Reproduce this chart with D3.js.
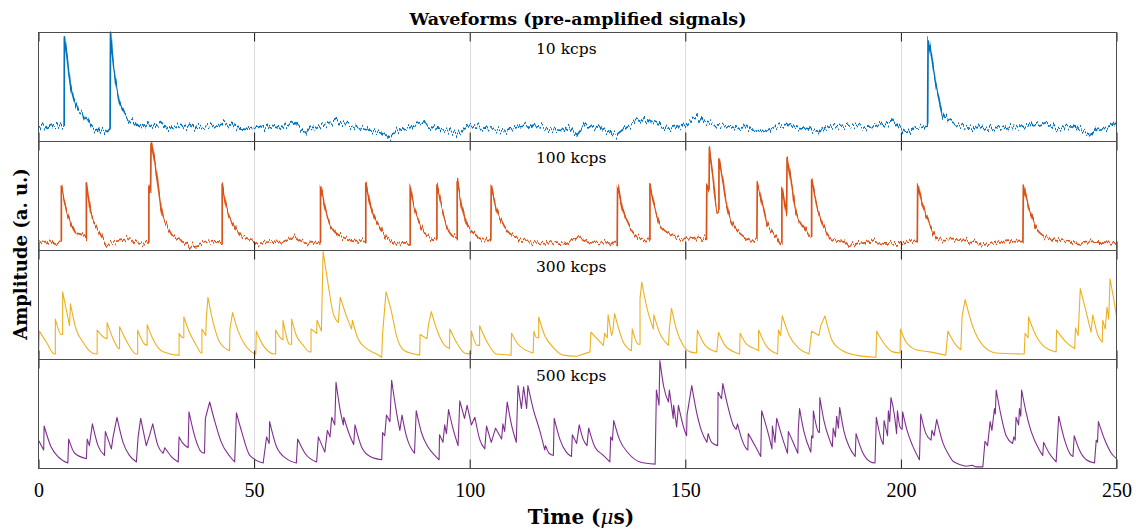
<!DOCTYPE html>
<html>
<head>
<meta charset="utf-8">
<script src="https://cdn.jsdelivr.net/npm/d3@7"></script>
<style>
  body { margin: 0; background: #fff; }
  svg { display: block; }
</style>
</head>
<body>
<svg id="chart" width="1136" height="531"></svg>
<script>
// Count-rate label of each stacked panel, top to bottom
const rateLabels = ["10 kcps", "100 kcps", "300 kcps", "500 kcps"];
const seriesColors = ["#0072BD", "#D95319", "#EDB120", "#7E2F8E"];
const xTickValues = [0, 50, 100, 150, 200, 250];
const gridValues = [50, 100, 150, 200];
// electronic noise on the low-rate traces (peak displacement, px)
const noiseScale = [8, 6, 0, 0];

// Pre-amplifier output, [time (µs), amplitude (% of panel range)]
const wave10 = [[0,13],[1,15],[2,12],[3,14],[4,13],[5,15],[5.95,14],[6.0,96],[6.6,78],[7.2,58],[7.9,43],[8.8,32],[9.6,27],[10.2,26],[10.6,22],[11.3,19],[12.1,14],[13,11],[14,9],[15,11],[16,9],[16.6,12],[16.7,100],[17.4,70],[18.3,44],[19.5,28],[20.4,21],[21.2,18],[22,20],[23,15],[24.5,12],[26,16],[27,14],[28,17],[29.5,13],[31,12],[32,15],[33.5,13],[35,15],[36.5,12],[38,13],[40,15],[41.5,14],[43,17],[44.5,15],[46,13],[48,12],[50,13],[51,15],[52.5,12],[54,14],[56,12],[57.5,16],[59.3,18],[60.5,13],[61.8,8],[63,12],[64.3,12],[66,15],[68,17],[69.2,20],[70.5,16],[72.5,15],[74,13],[75.8,11],[77.5,10],[79.2,8],[80.5,6],[81.6,4],[83,10],[85,12],[87,15],[89.1,17],[90.5,14],[92,12],[93.2,11],[95,10],[97.4,7],[98.5,11],[100,14],[102,13],[104,12],[106,11],[108.1,9],[110,12],[112.3,14],[114,13],[115.6,15],[117.5,12],[119.7,11],[121.5,10],[123.3,12],[124.9,6],[126.6,15],[130,12],[132,9],[134,6],[136.5,14],[140.7,21],[143.5,15],[146.7,12],[150,15],[152.6,24],[154.7,17],[158,15],[160,14],[162,12],[164,13],[166,11],[167.9,9],[170,12],[172,14],[174,15],[176,13],[178,12],[181.1,9],[183,13],[186,14],[189,14],[192,13],[195,15],[197.7,18],[199.5,14],[200.5,11],[201.8,8],[203,13],[205,14],[206.2,15],[206.3,95],[207.3,73],[208.5,46],[209.8,24],[211.8,18],[213.9,14],[216,12],[218,13],[220,11],[222,13],[224,12],[226,14],[228,13],[230,15],[232,14],[234,17],[236,11],[238,14],[240,13],[242,10],[243.9,6],[245.5,11],[247.5,12],[249.7,15],[250,14]];

const wave100 = [[0,8],[1.5,7],[3,9],[4.5,7],[5.3,8],[5.3,59],[6.4,38],[7.6,24],[8.7,16],[9.7,15],[10.7,13],[11.1,12],[11.1,64],[12.2,33],[13.8,19],[15.7,6],[18,8.5],[20,10],[21.1,11.5],[23.5,7],[25.4,6],[25.6,6],[25.6,58],[25.9,52],[26,52],[26.1,99],[27.3,73],[28.5,38],[29.6,25],[31.2,13],[34.3,7],[35.1,4],[38.2,7],[40,8],[42.6,8],[42.6,61],[43.6,39],[45.1,24],[46.7,15],[49,10],[50.5,6],[53.6,8],[56.7,7],[59.4,13],[61.4,8],[63.7,7],[65.4,8],[65.4,61],[66.8,33],[68.3,19],[70.7,12],[73.8,9],[75.9,8],[75.9,61],[77.2,39],[78.8,24],[80.7,12],[83.1,6],[84.5,7],[86.2,7],[86.2,59],[87.2,38],[88.8,21],[90.7,12],[92.3,10],[92.4,10],[92.4,61],[93.8,35],[95.4,16],[96.8,12],[97.1,12],[97.1,65],[98.1,41],[99.6,22],[101.2,15],[103.1,10],[104.9,10],[105,59],[106.2,38],[108.1,21],[110.8,12],[113.9,8],[117.8,6],[121.7,7],[125.5,12],[127.9,8],[131.7,7],[134.2,6],[134.3,60],[135.6,36],[137.2,21],[139.1,12],[141.4,10],[141.8,10],[141.8,61],[143,38],[144.6,21],[146.5,15],[149.5,10],[152.6,12],[154.9,11],[155,61],[155.5,55],[155.6,95],[156.3,70],[157.5,36],[157.8,36],[157.8,85],[158.8,61],[159.9,36],[161.5,21],[163.5,13],[165,9],[166.6,10],[166.7,62],[167.9,42],[169,24],[170.6,15],[172.1,5.5],[172.4,6],[172.4,58],[173.5,33],[173.6,85],[174.5,64],[175.7,35],[177.6,21],[179.1,13],[179.3,13],[179.3,65],[180.7,38],[182.2,21],[184.1,10],[186.5,9],[188,4],[190.3,7],[193.4,9],[196.5,6],[200,6],[201.9,9],[203.8,8],[203.9,61],[205,42],[206.6,24],[208.9,10],[211.2,10],[215.1,9],[219,5],[222.8,8],[226.7,9],[228.3,9],[228.4,60],[229.8,38],[231.3,21],[233.7,12],[236,9],[239.1,8],[242.2,7],[246.1,8],[250,7]];

const wave300 = [[0,2],[0.2,26],[1.8,16],[3.7,5],[3.9,5],[3.9,37],[5.3,23],[5.6,23],[5.6,62],[7.2,31],[7.4,51],[8.7,28],[10.3,16],[11.8,8],[13.4,5],[13.6,5],[13.6,27],[15.3,20],[15.9,19],[15.9,34],[17.3,19],[18.7,10],[18.8,10],[18.8,30],[20.4,17],[22.7,5],[23,5],[23,27],[24.6,14],[25.2,13],[25.2,32],[26.5,19],[28.9,7],[32.4,4],[32.6,4],[32.6,24],[33.5,20],[33.7,20],[33.7,39],[35.1,24],[36.6,13],[37.8,6],[37.9,6],[37.9,28],[38.8,22],[38.9,37],[39.3,57],[40.5,34],[42,16],[44.3,8],[44.4,28],[45,43],[46.3,26],[47.8,14],[49.8,6],[50.4,5],[50.5,26],[52.1,13],[54.8,5],[55,5],[55,27],[56.3,19],[56.7,18],[56.7,36],[58.3,14],[58.7,14],[58.7,37],[59.8,22],[61.4,13],[62.9,7],[63.2,7],[63.2,28],[64.5,24],[64.6,36],[65.6,26],[65.8,62],[66,99],[67.2,68],[68.3,43],[69.5,34],[69.7,43],[70,57],[71.4,40],[72.6,28],[72.8,36],[74.1,19],[76.1,10],[78.4,5],[79.6,2],[79.8,24],[80.6,62],[81.9,43],[83,22],[84.9,8],[88.4,4],[88.5,23],[90.1,19],[90.4,31],[91.1,44],[92.6,25],[94.2,13],[95.3,10],[95.4,28],[96.9,16],[98.8,6],[100.3,5],[100.4,26],[101.7,13],[102.3,13],[102.3,31],[103.9,17],[106.2,5],[109.6,4],[109.7,24],[111.2,14],[114.7,6],[114.9,26],[115.5,20],[116,20],[116,39],[117.4,22],[119.4,11],[121.7,4],[124.8,3],[127.9,7],[128.1,25],[131,13],[131.3,24],[131.9,20],[132.1,41],[132.9,22],[133.2,26],[133.6,42],[135.6,16],[137.5,8],[137.7,28],[139.1,14],[139.5,14],[139.5,56],[139.9,71],[141,49],[142.6,28],[142.7,41],[144.1,24],[146.1,13],[146.3,28],[146.8,47],[148,27],[149.5,13],[151.1,7],[152.6,6],[152.8,27],[154.6,13],[157.3,7],[157.7,25],[159.2,13],[161.9,6],[162.6,5],[162.7,24],[164.2,14],[166.6,9],[167,8],[167,27],[168.7,13],[171.4,5],[171.6,27],[172.1,22],[172.5,40],[174.1,22],[176.4,10],[178.7,5],[179.3,26],[181,22],[181.4,31],[182.4,40],[184.1,17],[186.5,8],[189.6,4],[194.2,2],[194.4,26],[195.7,17],[198.1,7],[199.8,6],[199.9,28],[201.2,16],[203.5,9],[206.6,7],[210.4,4],[210.9,26],[212.8,13],[213.9,9],[214.2,40],[214.9,55],[216.6,31],[219,13],[222.1,6],[228.6,5],[228.8,24],[229.5,20],[229.6,39],[231.3,22],[232.9,13],[236,7],[236.1,27],[238.3,16],[240.3,10],[240.5,29],[241.1,22],[241.6,65],[243,43],[244.1,25],[244.5,41],[245.7,22],[246.7,16],[246.8,36],[247.4,28],[247.8,48],[248.2,37],[248.5,74],[249.5,52],[250,40]];

const wave500 = [[0,26],[1.2,17],[1.3,39],[2.9,20],[4.5,11],[6.8,5],[7,27],[8.4,14],[11.1,9],[11.3,27],[11.8,21],[12.5,41],[13.8,21],[15.3,12],[15.5,34],[16.9,18],[17.3,29],[18.2,47],[19.6,24],[21.1,12],[22.7,6],[23.1,29],[23.7,46],[25,21],[25.8,31],[26.5,41],[27.7,21],[28.9,14],[29.3,19],[30.8,11],[32.4,6],[32.6,29],[33.5,23],[34.7,19],[34.9,52],[36.2,30],[37.8,15],[38.5,14],[38.7,46],[39.7,61],[40.9,43],[42.4,24],[44.4,11],[45.5,6],[45.9,51],[47.1,34],[49,12],[52.1,5],[52.9,29],[53.5,23],[53.6,43],[55.2,20],[57.5,9],[59.8,5],[60.1,27],[61.8,14],[64.5,6],[64.9,29],[66.4,15],[67,35],[67.6,29],[68,47],[68.7,40],[69,79],[69.9,55],[70.7,40],[70.8,47],[72.2,30],[73.1,22],[73.4,40],[74.9,20],[76.9,11],[79.6,8],[79.8,33],[80.3,30],[80.7,49],[81.5,43],[81.9,81],[83,52],[83.8,35],[84.3,49],[85.3,30],[86.1,21],[87.2,14],[87.6,53],[88.8,33],[90.3,20],[91.9,12],[92.9,8],[93,31],[93.8,24],[94.2,40],[94.6,32],[95.1,54],[96.1,37],[97.3,21],[97.7,62],[98.8,46],[99.4,58],[100.4,40],[101.2,47],[102.3,27],[103.5,18],[103.9,39],[105,24],[106,37],[107.4,27],[107.7,41],[108.1,34],[108.7,61],[109.7,40],[110.8,24],[111.2,76],[112,55],[112.5,75],[113.2,55],[113.5,76],[114.7,55],[116.3,34],[117.4,17],[117.6,21],[118.4,14],[119.4,12],[119.6,46],[120.9,27],[122.4,15],[123.6,11],[123.8,31],[124.8,23],[125.4,40],[126.3,27],[127.2,21],[127.6,37],[129,20],[131,12],[132.5,6],[132.7,29],[133.1,26],[133.4,44],[134.8,26],[136.8,14],[139.5,6],[143,4],[143.3,72],[143.9,58],[144.1,99],[145,75],[146.1,61],[146.3,72],[147.2,46],[147.3,58],[148,38],[148.4,58],[149.9,34],[150.3,30],[150.4,49],[151.5,76],[152.6,52],[153.8,34],[155,24],[155.3,32],[156.1,24],[157.5,21],[157.6,70],[158.4,64],[158.7,78],[160,55],[161.1,40],[161.8,36],[162.1,41],[163.1,27],[164.2,18],[164.5,17],[164.6,32],[166.3,20],[167.5,11],[167.7,53],[169.1,34],[170.1,18],[170.2,39],[170.8,24],[171.2,46],[172.6,27],[173.7,14],[173.9,34],[175,24],[176.1,14],[176.2,35],[176.5,55],[177.5,34],[179.1,15],[179.3,30],[179.6,28],[179.7,53],[180.8,34],[181.1,33],[181.2,65],[182.2,43],[183.4,27],[184.1,20],[184.3,37],[184.8,29],[185.1,48],[185.5,37],[185.8,56],[186.8,34],[188,20],[189.4,11],[189.6,32],[191.1,15],[193,6],[194,5],[194.3,47],[195.4,27],[195.9,22],[196.1,44],[196.9,30],[197.1,53],[197.4,43],[197.7,65],[198.5,49],[199,32],[199.2,53],[199.8,38],[200.3,36],[200.4,52],[201.5,34],[202.7,21],[204.3,8],[204.6,50],[205.8,32],[207,26],[207.2,35],[207.7,30],[208.3,45],[209.7,24],[211.2,12],[212,7],[212.8,5],[215.1,2],[216.6,3],[217.5,1.5],[219,1.5],[219.5,25],[220.1,21],[220.7,43],[221.1,35],[221.7,55],[221.9,50],[222.1,72],[223.2,49],[224.4,30],[225.9,23],[226.2,29],[226.5,26],[226.7,47],[227.3,40],[227.5,55],[227.8,48],[228,72],[229,52],[230.2,34],[232.1,17],[232.9,12],[233.1,24],[234.4,14],[236,6],[236.6,48],[237.9,27],[239.5,12],[239.9,11],[240.2,30],[241.4,17],[243,8],[244.9,5],[245.3,26],[245.6,24],[245.8,43],[247.2,27],[248.8,14],[250,9]];

const waves = [wave10, wave100, wave300, wave500];

const svg = d3.select("#chart");
const margin = { left: 38.5, right: 1116.5, top: 32.5 };
const panelH = 109;
const serif = "'DejaVu Serif', 'Liberation Serif', serif";

svg.append("rect").attr("width", 1136).attr("height", 531).attr("fill", "#fff");
const defs = svg.append("defs");

const x = d3.scaleLinear().domain([0, 250]).range([margin.left, margin.right]);

// Falling stretches (pulse tails) are smoothed; rising edges stay straight.
function tracePath(wave, y) {
  const runs = [];
  let cur = [wave[0]];
  for (let k = 1; k < wave.length; k++) {
    if (wave[k][1] > wave[k - 1][1]) { runs.push(cur); cur = [wave[k]]; }
    else cur.push(wave[k]);
  }
  runs.push(cur);
  const gen = d3.line().x(d => x(d[0])).y(d => y(d[1])).curve(d3.curveMonotoneX);
  return runs.map((r, idx) => {
    let s = r.length === 1 ? `M${x(r[0][0])},${y(r[0][1])}` : gen(r);
    return idx ? "L" + s.slice(1) : s;
  }).join("");
}

waves.forEach((wave, i) => {
  const top = margin.top + i * panelH;
  const bottom = top + panelH;
  const y = d3.scaleLinear().domain([0, 100]).range([bottom, top]);
  const g = svg.append("g").attr("class", "panel");

  // vertical grid
  g.selectAll("line.grid").data(gridValues).join("line")
    .attr("class", "grid")
    .attr("x1", d => Math.round(x(d)) + 0.5).attr("x2", d => Math.round(x(d)) + 0.5)
    .attr("y1", top).attr("y2", bottom)
    .attr("stroke", "#dcdcdc").attr("stroke-width", 1);

  const clipId = "clip" + i;
  defs.append("clipPath").attr("id", clipId)
    .append("rect").attr("x", margin.left).attr("y", top - 1)
    .attr("width", margin.right - margin.left).attr("height", panelH + 1);

  // jitter filter for the noisy traces
  let filterRef = null;
  if (noiseScale[i] > 0) {
    const fid = "noise" + i;
    const f = defs.append("filter").attr("id", fid)
      .attr("filterUnits", "userSpaceOnUse")
      .attr("x", margin.left - 5).attr("y", top - 10)
      .attr("width", margin.right - margin.left + 10).attr("height", panelH + 20)
      .attr("color-interpolation-filters", "sRGB");
    f.append("feTurbulence").attr("type", "fractalNoise")
      .attr("baseFrequency", "0.5 0.03").attr("numOctaves", 2).attr("seed", 3 + i).attr("result", "n");
    f.append("feColorMatrix").attr("in", "n").attr("type", "matrix")
      .attr("values", "1.8 0 0 0 -0.4  0 0 0 0 0.5  0 0 0 0 0  0 0 0 0 1").attr("result", "m");
    f.append("feDisplacementMap").attr("in", "SourceGraphic").attr("in2", "m")
      .attr("scale", noiseScale[i]).attr("xChannelSelector", "G").attr("yChannelSelector", "R");
    filterRef = `url(#${fid})`;
  }

  const clipG = g.append("g").attr("clip-path", `url(#${clipId})`);
  clipG.append("path")
    .attr("fill", "none")
    .attr("stroke", seriesColors[i])
    .attr("stroke-width", noiseScale[i] > 0 ? 1.7 : 1.1)
    .attr("stroke-linejoin", "round")
    .attr("filter", filterRef)
    .attr("d", tracePath(wave, y));

  // inward ticks on top and bottom edges
  const topAxis = d3.axisTop(x).tickValues(xTickValues).tickSizeInner(-9).tickSizeOuter(0).tickFormat("");
  const isLast = i === waves.length - 1;
  const bottomAxis = d3.axisBottom(x).tickValues(xTickValues).tickSizeInner(-9).tickSizeOuter(0)
    .tickPadding(14).tickFormat(isLast ? d3.format("d") : "");
  const ta = g.append("g").attr("transform", `translate(0,${top})`).call(topAxis);
  const ba = g.append("g").attr("transform", `translate(0,${bottom})`).call(bottomAxis);
  [ta, ba].forEach(a => {
    a.select(".domain").remove();
    a.selectAll(".tick line").attr("stroke", "#1a1a1a").attr("stroke-width", 1);
  });
  ba.selectAll(".tick text")
    .attr("fill", "#000")
    .style("font-family", "'Liberation Serif', 'DejaVu Serif', serif")
    .style("font-size", "20px");

  // panel frame
  g.append("rect")
    .attr("x", margin.left).attr("y", top)
    .attr("width", margin.right - margin.left).attr("height", panelH)
    .attr("fill", "none").attr("stroke", "#4d4d4d").attr("stroke-width", 1);

  g.append("text")
    .attr("x", 536).attr("y", top + 21.5)
    .style("font-family", serif).style("font-size", "15.5px")
    .attr("fill", "#000")
    .text(rateLabels[i]);
});

svg.append("text")
  .attr("x", 578).attr("y", 25).attr("text-anchor", "middle")
  .style("font-family", serif).style("font-size", "17.5px").style("font-weight", "bold")
  .text("Waveforms (pre-amplified signals)");

svg.append("text")
  .attr("transform", "translate(26.5,254) rotate(-90)").attr("text-anchor", "middle")
  .style("font-family", serif).style("font-size", "18px").style("font-weight", "bold")
  .text("Amplitude (a. u.)");

const xl = svg.append("text")
  .attr("x", 581).attr("y", 524).attr("text-anchor", "middle")
  .style("font-family", serif).style("font-size", "20px").style("font-weight", "bold");
xl.append("tspan").text("Time (");
xl.append("tspan").style("font-style", "italic").style("font-weight", "normal").text("\u03BC");
xl.append("tspan").text("s)");
</script>
</body>
</html>
